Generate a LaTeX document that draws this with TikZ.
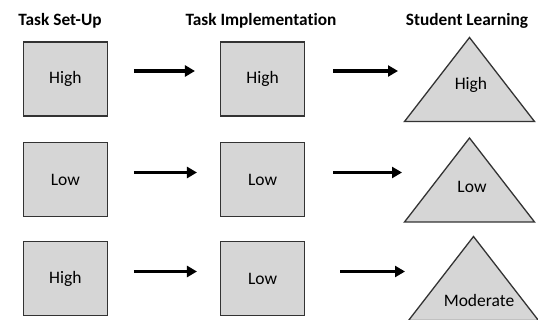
\documentclass[tikz,border=0pt]{standalone}
\usepackage{fontspec}
\setmainfont{Carlito}[Ligatures=NoCommon]
\usetikzlibrary{arrows.meta}

\tikzset{
    stagebox/.style={draw=black!80, line width=1.3pt, fill=black!16,
                     minimum width=84pt, minimum height=74pt, inner sep=0pt,
                     font=\fontsize{17.5}{20}\selectfont},
    heading/.style={anchor=base, font=\fontsize{17.3}{20}\selectfont\bfseries},
    outcome/.style={font=\fontsize{17.5}{20}\selectfont},
    peak/.style={draw=black!80, line width=1.3pt, fill=black!16, line join=miter},
    flow/.style={line width=3.2pt, -{Triangle[length=10pt,width=11pt]}}
}

\begin{document}
\begin{tikzpicture}[x=1pt,y=-1pt]
            \useasboundingbox (0,0) rectangle (538,320);
            \clip (0,0) rectangle (538,320);

            \node[heading] (setup) at (60,26) {Task Set-Up};
            \node[heading] (implementation) at (261,26) {Task Implementation};
            \node[heading] (learning) at (467,26) {Student Learning};

            \node[stagebox] (setA) at (65.3,79) {High};
            \node[stagebox] (setB) at (65.3,179.5) {Low};
            \node[stagebox] (setC) at (65.3,278.5) {High};
            \node[stagebox] (impA) at (262.6,79) {High};
            \node[stagebox] (impB) at (262.6,179.5) {Low};
            \node[stagebox] (impC) at (262.6,278.5) {Low};

            \coordinate (peakA) at (469.5,37.5);
            \coordinate (peakB) at (469.5,138);
            \coordinate (peakC) at (473.5,236.5);
            \foreach \p in {peakA,peakB,peakC}
                \draw[peak] (\p) -- ++(-65,84) -- ++(130,0) -- cycle;

            \node[outcome] (learnA) at (471,85) {High};
            \node[outcome] (learnB) at (472,186.5) {Low};
            \node[outcome, anchor=base] (learnC) at (479,306) {Moderate};

            \coordinate (endA) at (398,71);
            \coordinate (endB) at (402,172.5);
            \coordinate (endC) at (405,271.5);

            \draw[flow, shorten <=26pt, shorten >=25pt] ([yshift=8pt]setA.east) -- ([yshift=8pt]impA.west);
            \draw[flow, shorten <=26pt, shorten >=23pt] ([yshift=7pt]setB.east) -- ([yshift=7pt]impB.west);
            \draw[flow, shorten <=26pt, shorten >=23pt] ([yshift=7pt]setC.east) -- ([yshift=7pt]impC.west);
            \draw[flow, shorten <=28pt] ([yshift=8pt]impA.east) -- (endA);
            \draw[flow, shorten <=28pt] ([yshift=7pt]impB.east) -- (endB);
            \draw[flow, shorten <=35pt] ([yshift=7pt]impC.east) -- (endC);
        \end{tikzpicture}
\end{document}
